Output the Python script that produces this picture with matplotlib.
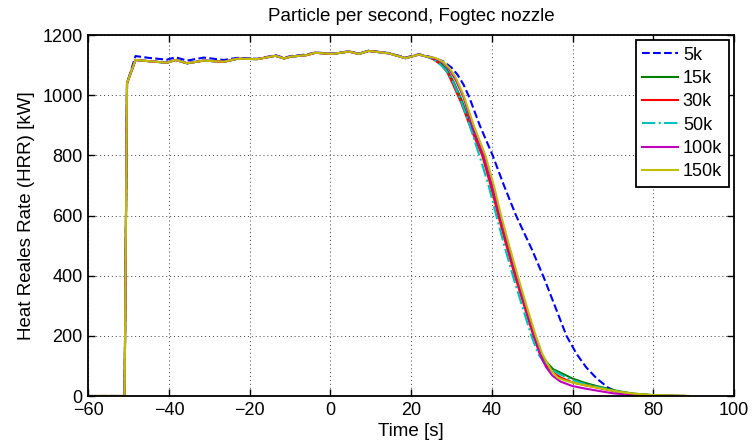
import matplotlib
matplotlib.use("Agg")
import matplotlib.pyplot as plt
import numpy as np

plt.rcParams["font.family"] = ["Liberation Sans", "DejaVu Sans"]
plt.rcParams["font.size"] = 13

# -------- Data --------
# common start + plateau, all runs
t_plateau = [-60, -51, -50.4, -48.3, -45, -40.5, -38.4, -35.5, -31.4, -26.4, -23.1, -18.1,
             -13.6, -11.5, -9.9, -6, -3.7, 0.4, 4.6, 7, 9.5, 14.5, 18.6, 21.9, 24]
hrr_plateau = [0, 0, 1040, 1117, 1113, 1108, 1117, 1106, 1115, 1111, 1121, 1120,
               1131, 1122, 1128, 1133, 1141, 1137, 1145, 1137, 1147, 1139, 1123, 1135, 1128]
hrr_plateau_5k = [0, 0, 1040, 1130, 1124, 1118, 1126, 1115, 1125, 1117, 1124, 1121,
                  1133, 1124, 1130, 1135, 1142, 1138, 1146, 1138, 1148, 1140, 1125, 1136, 1130]

# decay phase per run
t_5k = [26, 28, 30, 31.5, 33, 34.5, 37, 40.2, 43, 46, 50, 53, 58.5, 61, 63.4, 66, 68.8, 72, 76, 88]
hrr_5k = [1122, 1112, 1092, 1068, 1035, 990, 900, 800, 700, 600, 485, 390, 200, 140, 95, 58, 28, 8, 0, 0]

t_15k = [25.5, 27.5, 29, 30.5, 32.5, 35, 37.8, 39.9, 41.8, 43.8, 45.9, 48.2, 50.5, 52.2, 53.6,
         55.2, 57.4, 60, 63, 66, 71, 75, 80, 88]
hrr_15k = [1120, 1105, 1082, 1045, 985, 890, 800, 700, 600, 500, 400, 300, 200, 140, 112,
           89, 75, 58, 44, 33, 17, 8, 3, 0]

t_30k = [25.5, 27.5, 29, 30.3, 32.3, 34.8, 37.6, 39.7, 41.6, 43.6, 45.7, 48, 50.3, 52, 53.3,
         55, 57, 60, 63, 66, 71, 75, 80, 88]
hrr_30k = [1120, 1100, 1075, 1038, 978, 890, 800, 700, 600, 500, 400, 300, 200, 135, 105,
           80, 62, 45, 36, 28, 14, 7, 2, 0]

t_50k = [25.5, 27, 28.5, 30, 32, 34.5, 36.9, 39.2, 41.1, 43.1, 45.2, 47.5, 49.8, 51.5, 53,
         54.5, 56.8, 58.5, 60, 63, 66, 71, 75, 80, 88]
hrr_50k = [1120, 1105, 1085, 1055, 995, 900, 800, 700, 600, 500, 400, 300, 200, 140, 110,
           90, 73, 62, 52, 40, 30, 15, 7, 2, 0]

t_100k = [26, 28, 29.5, 31, 33, 35.2, 38, 40.1, 42, 44, 46.1, 48.3, 50.6, 52.2, 53.5,
          55, 57, 60, 63, 66, 70, 75, 80, 88]
hrr_100k = [1122, 1108, 1085, 1052, 993, 895, 800, 700, 600, 500, 400, 300, 200, 130, 95,
            68, 48, 33, 25, 18, 9, 3, 0, 0]

t_150k = [26, 28, 29.5, 31, 33, 35.5, 38.4, 40.5, 42.3, 44.3, 46.4, 48.6, 50.9, 52.5, 53.8,
          55, 56.3, 58, 60, 63, 66, 71, 75, 80, 89]
hrr_150k = [1124, 1110, 1090, 1060, 1000, 900, 800, 700, 600, 500, 400, 300, 200, 140, 107,
            80, 61, 52, 45, 36, 28, 15, 8, 3, 0]

labels = ["5k", "15k", "30k", "50k", "100k", "150k"]
colors = ["#0000ff", "#008000", "#ff0000", "#00bfbf", "#bf00bf", "#bfbf00"]
styles = ["--", "-", "-", "-.", "-", "-"]

runs = [
    (t_5k, hrr_5k, hrr_plateau_5k),
    (t_15k, hrr_15k, hrr_plateau),
    (t_30k, hrr_30k, hrr_plateau),
    (t_50k, hrr_50k, hrr_plateau),
    (t_100k, hrr_100k, hrr_plateau),
    (t_150k, hrr_150k, hrr_plateau),
]

# -------- Plot --------
fig = plt.figure(figsize=(7.52, 4.46), dpi=100)
ax = fig.add_axes([0.1174, 0.1121, 0.8586, 0.8094])

for (t_dec, h_dec, h_pl), lab, c, ls in zip(runs, labels, colors, styles):
    t = np.concatenate([t_plateau, t_dec])
    h = np.concatenate([h_pl, h_dec])
    ax.plot(t, h, color=c, linestyle=ls, linewidth=1.5, label=lab)

ax.set_xlim(-60, 100)
ax.set_ylim(0, 1200)
ax.set_xticks(np.arange(-60, 101, 20))
ax.set_yticks(np.arange(0, 1201, 200))
ax.grid(True, color="k", linestyle=(0, (1, 3)), linewidth=0.7, alpha=0.75)
ax.tick_params(direction="in", top=True, right=True, length=5, width=1.0, labelsize=13)
ax.tick_params(axis="x", pad=4)
ax.tick_params(axis="y", pad=4)
for sp in ax.spines.values():
    sp.set_linewidth(1.3)

ax.set_title("Particle per second, Fogtec nozzle", fontsize=13.5, pad=10)
ax.set_xlabel("Time [s]", fontsize=13.5, labelpad=3)
ax.set_ylabel("Heat Reales Rate (HRR) [kW]", fontsize=13.5, labelpad=5)

leg = ax.legend(loc="upper right", fancybox=False, framealpha=1, edgecolor="k",
                handlelength=2.0, labelspacing=0.35, borderaxespad=0.3,
                handletextpad=0.25, borderpad=0.35, fontsize=13)
leg.get_frame().set_linewidth(1.3)

fig.savefig("out.png", dpi=100)
